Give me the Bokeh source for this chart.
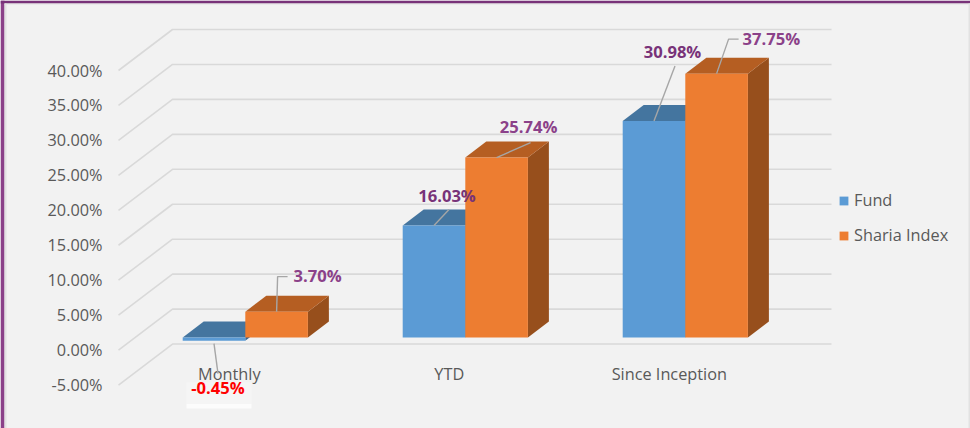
from bokeh.plotting import figure
from bokeh.embed import file_html
from bokeh.resources import INLINE
from bokeh.models import Range1d, Legend, LegendItem
from bokeh.core.properties import value

categories = ["Monthly", "YTD", "Since Inception"]
fund = [-0.45, 16.03, 30.98]
sharia = [3.70, 25.74, 37.75]
series_names = ["Fund", "Sharia Index"]
tick_values = [40, 35, 30, 25, 20, 15, 10, 5, 0, -5]
tick_labels = ["40.00%", "35.00%", "30.00%", "25.00%", "20.00%", "15.00%", "10.00%", "5.00%", "0.00%", "-5.00%"]
fund_labels = ["-0.45%", "16.03%", "30.98%"]
sharia_labels = ["3.70%", "25.74%", "37.75%"]

W, H = 970, 428
PX_X = 220.0      # pixels per category
PX_Y = 6.99       # pixels per percentage point
X0, Y0 = 244.8, 337.0  # pixel position of group 0 centre / value 0


def dx(px):
    return px / PX_X


def dy(px):
    return px / PX_Y


def X(px):
    return (px - X0) / PX_X


def Y(py):
    return (Y0 - py) / PX_Y


p = figure(width=W, height=H, output_backend="svg", toolbar_location=None,
           x_range=Range1d(X(0), X(W)), y_range=Range1d(Y(H), Y(0)),
           x_axis_location=None, y_axis_location=None, min_border=0,
           background_fill_color="#f2f2f2", border_fill_color="#f2f2f2",
           outline_line_color=None)
p.grid.visible = False

SANS = value("Open Sans")
FS = "16.3px"
FSB = "16.6px"

# frame decoration
p.quad(left=[X(0)], right=[X(4)], bottom=[Y(H)], top=[Y(0)], fill_color="#8b4189", line_color=None)
p.quad(left=[X(0)], right=[X(W)], bottom=[Y(3)], top=[Y(0)], fill_color="#783379", line_color=None)
p.quad(left=[X(4)], right=[X(W)], bottom=[Y(4)], top=[Y(3)], fill_color="#e2e2e2", line_color=None)
p.quad(left=[X(4)], right=[X(6)], bottom=[Y(H)], top=[Y(3)], fill_color="#e2e2e2", line_color=None)
p.quad(left=[X(968)], right=[X(W)], bottom=[Y(H)], top=[Y(3)], fill_color="#e2e2e2", line_color=None)

# walls: front-left end, back-left corner, right end
wall_front = [v - dy(12.6) for v in tick_values]
wall_back = [v + dy(28.4) for v in tick_values]
p.multi_line(xs=[[X(118), X(172), X(831)] for _ in tick_values],
             ys=[[a, b, b] for a, b in zip(wall_front, wall_back)],
             line_color="#d9d9d9", line_width=1.6)

p.text(x=[X(102)] * len(tick_values), y=wall_front, text=tick_labels, text_align="right",
       text_baseline="middle", text_font=SANS, text_font_size=FS, text_color="#595959")

BAR = dx(62.6)
DEPTH_X, DEPTH_Y = dx(21), dy(16)


def bar_3d(center, val, front, top, side):
    l, r = center - BAR / 2, center + BAR / 2
    hi = max(val, 0)
    lo = min(val, 0)
    p.patches(xs=[[r, r + DEPTH_X, r + DEPTH_X, r]], ys=[[lo, lo + DEPTH_Y, hi + DEPTH_Y, hi]],
              fill_color=side, line_color=None)
    p.patches(xs=[[l, l + DEPTH_X, r + DEPTH_X, r]], ys=[[hi, hi + DEPTH_Y, hi + DEPTH_Y, hi]],
              fill_color=top, line_color=None)
    return p.quad(left=[l], right=[r], bottom=[lo], top=[hi], fill_color=front, line_color=None)


r_fund = r_sharia = None
for i in range(len(categories)):
    r_fund = bar_3d(i - BAR / 2, fund[i], "#5b9bd5", "#44759f", "#3a6590")
    r_sharia = bar_3d(i + BAR / 2, sharia[i], "#ed7d31", "#b55e22", "#974f1c")

# category labels
p.text(x=[i - dx(16) for i in range(3)], y=[Y(373)] * 3, text=categories, text_align="center",
       text_baseline="middle", text_font=SANS, text_font_size=FS, text_color="#595959")

# glow behind the red label
p.quad(left=[X(186)], right=[X(251)], bottom=[Y(404)], top=[Y(382)], fill_color="#f5f5f5", line_color=None)
p.quad(left=[X(186)], right=[X(251)], bottom=[Y(408)], top=[Y(403.5)], fill_color="#fcfcfc", line_color=None)

# leaders (pixel offsets relative to each bar's front-face top)
GREY = "#a6a6a6"
fund_leader = [[(0, 3), (4, 33)], [(0, 0), (15, -16)], [(0, 0), (21, -55)]]
sharia_leader = [[(0, 0), (1, -35), (11, -35)], [(0, 0), (34, -15)], [(0, 0), (12, -34.5), (22, -34.5)]]
for i in range(3):
    for cx, val, pts in ((i - BAR / 2, fund[i], fund_leader[i]), (i + BAR / 2, sharia[i], sharia_leader[i])):
        p.line(x=[cx + dx(a) for a, b in pts], y=[val - dy(b) for a, b in pts], line_color=GREY, line_width=1.4)

# data labels
fund_off = [(4, 47), (13, -30), (18.5, -69)]
sharia_off = [(17, -36), (32, -31), (26, -35)]
fund_col = ["#ff0000", "#783379", "#783379"]
sharia_align = ["left", "center", "left"]
for i in range(3):
    ox, oy = fund_off[i]
    p.text(x=[i - BAR / 2 + dx(ox)], y=[fund[i] - dy(oy)], text=[fund_labels[i]], text_align="center",
           text_baseline="middle", text_font=SANS, text_font_style="bold", text_font_size=FSB,
           text_color=fund_col[i])
    ox, oy = sharia_off[i]
    p.text(x=[i + BAR / 2 + dx(ox)], y=[sharia[i] - dy(oy)], text=[sharia_labels[i]], text_align=sharia_align[i],
           text_baseline="middle", text_font=SANS, text_font_style="bold", text_font_size=FSB,
           text_color="#8b4189")

legend = Legend(items=[LegendItem(label=series_names[0], renderers=[r_fund]),
                       LegendItem(label=series_names[1], renderers=[r_sharia])],
                location=(838, 182), orientation="vertical", background_fill_alpha=0,
                border_line_color=None, padding=0, margin=0, spacing=13,
                glyph_width=11, glyph_height=11, label_standoff=5,
                label_text_font="Open Sans", label_text_font_size=FS, label_text_color="#595959")
p.add_layout(legend, "center")

open("out.html", "w").write(file_html(p, INLINE))
